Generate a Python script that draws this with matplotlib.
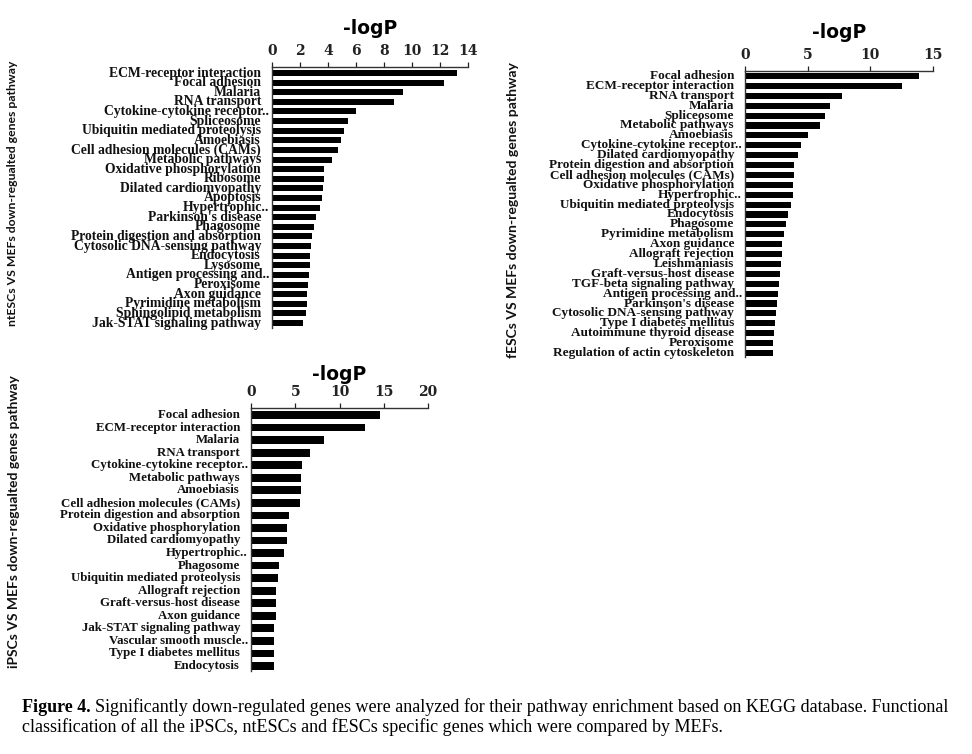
import matplotlib
matplotlib.use('Agg')
import matplotlib.pyplot as plt

W, H = 972, 754

# ntESCs vs MEFs
nt_labels = ['ECM-receptor interaction', 'Focal adhesion', 'Malaria', 'RNA transport',
             'Cytokine-cytokine receptor..', 'Spliceosome', 'Ubiquitin mediated proteolysis',
             'Amoebiasis', 'Cell adhesion molecules (CAMs)', 'Metabolic pathways',
             'Oxidative phosphorylation', 'Ribosome', 'Dilated cardiomyopathy', 'Apoptosis',
             'Hypertrophic..', "Parkinson's disease", 'Phagosome',
             'Protein digestion and absorption', 'Cytosolic DNA-sensing pathway', 'Endocytosis',
             'Lysosome', 'Antigen processing and..', 'Peroxisome', 'Axon guidance',
             'Pyrimidine metabolism', 'Sphingolipid metabolism', 'Jak-STAT signaling pathway']
nt_values = [13.2, 12.3, 9.35, 8.7, 6.0, 5.45, 5.13, 4.9, 4.7, 4.27, 3.7, 3.7, 3.65, 3.6,
             3.45, 3.17, 3.0, 2.85, 2.8, 2.73, 2.7, 2.65, 2.6, 2.5, 2.5, 2.4, 2.2]

# fESCs vs MEFs
f_labels = ['Focal adhesion', 'ECM-receptor interaction', 'RNA transport', 'Malaria',
            'Spliceosome', 'Metabolic pathways', 'Amoebiasis', 'Cytokine-cytokine receptor..',
            'Dilated cardiomyopathy', 'Protein digestion and absorption',
            'Cell adhesion molecules (CAMs)', 'Oxidative phosphorylation', 'Hypertrophic..',
            'Ubiquitin mediated proteolysis', 'Endocytosis', 'Phagosome',
            'Pyrimidine metabolism', 'Axon guidance', 'Allograft rejection', 'Leishmaniasis',
            'Graft-versus-host disease', 'TGF-beta signaling pathway',
            'Antigen processing and..', "Parkinson's disease", 'Cytosolic DNA-sensing pathway',
            'Type I diabetes mellitus', 'Autoimmune thyroid disease', 'Peroxisome',
            'Regulation of actin cytoskeleton']
f_values = [13.85, 12.5, 7.75, 6.8, 6.35, 6.0, 5.05, 4.5, 4.2, 3.9, 3.87, 3.82, 3.82, 3.7,
            3.4, 3.25, 3.13, 2.97, 2.92, 2.85, 2.8, 2.75, 2.6, 2.55, 2.5, 2.4, 2.3, 2.25, 2.2]

# iPSCs vs MEFs
ip_labels = ['Focal adhesion', 'ECM-receptor interaction', 'Malaria', 'RNA transport',
             'Cytokine-cytokine receptor..', 'Metabolic pathways', 'Amoebiasis',
             'Cell adhesion molecules (CAMs)', 'Protein digestion and absorption',
             'Oxidative phosphorylation', 'Dilated cardiomyopathy', 'Hypertrophic..',
             'Phagosome', 'Ubiquitin mediated proteolysis', 'Allograft rejection',
             'Graft-versus-host disease', 'Axon guidance', 'Jak-STAT signaling pathway',
             'Vascular smooth muscle..', 'Type I diabetes mellitus', 'Endocytosis']
ip_values = [14.6, 12.9, 8.2, 6.7, 5.8, 5.6, 5.6, 5.55, 4.3, 4.1, 4.1, 3.7, 3.15, 3.1,
             2.85, 2.85, 2.8, 2.6, 2.55, 2.55, 2.55]

serif = 'Liberation Serif'
sans = ['Lato', 'DejaVu Sans']


def add_panel(fig, labels, values, xmax, step, box, centers, title_y,
              ylabel, ylabel_xy, ylabel_size, fsize):
    left, right, top, bottom = box
    first_c, last_c = centers
    n = len(labels)
    ax = fig.add_axes([left / W, 1 - bottom / H, (right - left) / W, (bottom - top) / H])
    spacing = (last_c - first_c) / (n - 1)
    ax.barh(range(n), values, height=0.62, color='black')
    ax.set_xlim(0, xmax)
    ax.set_ylim(n - 1 + (bottom - last_c) / spacing, -(first_c - top) / spacing)

    for s in ['right', 'bottom']:
        ax.spines[s].set_visible(False)
    for s in ['left', 'top']:
        ax.spines[s].set_color('#333333')
        ax.spines[s].set_linewidth(1.0)

    ax.xaxis.tick_top()
    ax.set_xticks(range(0, xmax + 1, step))
    ax.tick_params(axis='x', direction='out', length=3.5, width=0.9, pad=3,
                   colors='#222222', labelsize=10)
    for t in ax.get_xticklabels():
        t.set_fontfamily('DejaVu Serif')
        t.set_fontweight('bold')
    ax.set_yticks([])

    # category labels, truncated names sit closer to the axis
    for i, lab in enumerate(labels):
        dx = 3 if lab.endswith('..') else 11
        ax.annotate(lab, xy=(0, i), xycoords=('axes fraction', 'data'),
                    xytext=(-dx, 0), textcoords='offset pixels', ha='right', va='center',
                    fontsize=fsize, fontweight='bold', family=serif, color='#111111')

    fig.text((left + right) / 2 / W, 1 - title_y / H, '-logP', ha='center', va='center',
             fontsize=13.5, fontweight='bold', family=['DejaVu Sans'])

    fig.text(ylabel_xy[0] / W, 1 - ylabel_xy[1] / H, ylabel, rotation=90,
             ha='center', va='center', fontsize=ylabel_size, fontweight='bold',
             family=sans, color='#111111')
    return ax


fig = plt.figure(figsize=(W / 100, H / 100), dpi=100)

add_panel(fig, nt_labels, nt_values, 14, 2, (272, 468, 67, 328), (73, 323), 28,
          'ntESCs VS MEFs down-regualted genes pathway', (13, 193), 8.8, 9.8)
add_panel(fig, f_labels, f_values, 15, 5, (745, 933, 71, 357), (76, 353), 33,
          'fESCs VS MEFs down-regualted genes pathway', (513, 210), 10.1, 9.5)
add_panel(fig, ip_labels, ip_values, 20, 5, (251, 428, 408, 671), (415, 666), 374,
          'iPSCs VS MEFs down-regualted genes pathway', (14, 522), 10.0, 9.3)

# caption
cap_x, cap_y1, cap_y2 = 22 / W, 1 - 707 / H, 1 - 727 / H
bold = fig.text(cap_x, cap_y1, 'Figure 4.', fontsize=13, fontweight='bold', family=serif,
                va='center')
fig.canvas.draw()
r = fig.canvas.get_renderer()
bb = bold.get_window_extent(r)
fig.text((bb.x1 + 4) / W, cap_y1,
         'Significantly down-regulated genes were analyzed for their pathway enrichment '
         'based on KEGG database. Functional', fontsize=13, family=serif, va='center')
fig.text(cap_x, cap_y2,
         'classification of all the iPSCs, ntESCs and fESCs specific genes which were '
         'compared by MEFs.', fontsize=13, family=serif, va='center')

fig.savefig('out.png', dpi=100)
